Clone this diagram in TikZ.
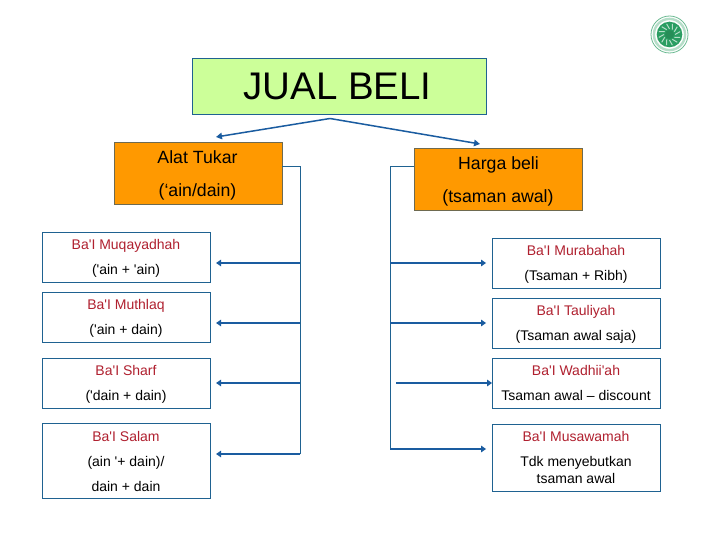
\documentclass[tikz,border=0pt]{standalone}
\usepackage{fontspec}
\setmainfont{Liberation Sans}
\usetikzlibrary{arrows.meta,calc}
\definecolor{edgeblue}{HTML}{1F6291}
\definecolor{arrowblue}{HTML}{1A5CA0}
\definecolor{titlegreen}{HTML}{CCFF99}
\definecolor{headorange}{HTML}{FF9900}
\definecolor{headedge}{HTML}{6E6A50}
\definecolor{redtext}{HTML}{B0202F}
\definecolor{logogreen}{HTML}{2A9D62}
\newcommand{\ap}{\textquotesingle}
\tikzset{
  titlebox/.style={draw=edgeblue,fill=titlegreen,line width=0.9pt,minimum width=294pt,minimum height=56pt,inner sep=0pt,outer sep=0pt},
  headbox/.style={draw=headedge,fill=headorange,line width=0.9pt,minimum width=168pt,minimum height=62pt,inner sep=0pt,outer sep=0pt},
  itembox/.style={draw=edgeblue,line width=0.9pt,minimum width=168.5pt,inner sep=0pt,outer sep=0pt},
  headtext/.style={anchor=base,yshift=-1.5pt,font=\fontsize{17.7}{20}\selectfont,text=black,inner sep=0pt},
  nametext/.style={anchor=base,yshift=-0.8pt,font=\fontsize{14}{16}\selectfont,text=redtext,inner sep=0pt},
  valtext/.style={anchor=base,yshift=-0.8pt,font=\fontsize{14}{16}\selectfont,text=black,inner sep=0pt},
  trunk/.style={draw=edgeblue,line width=0.9pt},
  branch/.style={draw=arrowblue,line width=2.1pt,-{Triangle[length=5pt,width=6.5pt]}},
  toparrow/.style={draw=arrowblue,line width=1.5pt,-{Triangle[length=6pt,width=6.5pt]}}
}
\begin{document}
\begin{tikzpicture}[x=1pt,y=-1pt]
\useasboundingbox (0,0) rectangle (720,540);
\fill[white] (0,0) rectangle (720,540);
% title
\node[titlebox] (title) at (339.3,86.3) {};
\node[anchor=base,font=\fontsize{38.5}{44}\selectfont,inner sep=0pt] (titletext) at (337.5,100) {JUAL BELI};
% heads
\node[headbox] (alat) at (198.3,173.5) {};
\node[headbox] (harga) at (498.3,179.3) {};
\node[headtext] (alat1) at (197.5,162) {Alat Tukar};
\node[headtext] (alat2) at (197.5,195) {(‘ain/dain)};
\node[headtext] (harga1) at (498.5,168) {Harga beli};
\node[headtext] (harga2) at (498,201) {(tsaman awal)};
% left items
\node[itembox,minimum height=50pt] (l1) at (126.3,257.3) {};
\node[itembox,minimum height=50pt] (l2) at (126.3,317.3) {};
\node[itembox,minimum height=50pt] (l3) at (126.3,383.3) {};
\node[itembox,minimum height=75pt] (l4) at (126.3,461.3) {};
\node[nametext] (l1a) at (126,248.5) {Ba\ap I Muqayadhah};
\node[valtext] (l1b) at (126,274) {(\ap ain + \ap ain)};
\node[nametext] (l2a) at (126,309) {Ba\ap I Muthlaq};
\node[valtext] (l2b) at (126,334) {(\ap ain + dain)};
\node[nametext] (l3a) at (126,375) {Ba\ap I Sharf};
\node[valtext] (l3b) at (126,400) {(\ap dain + dain)};
\node[nametext] (l4a) at (126,441) {Ba\ap I Salam};
\node[valtext] (l4b) at (126,466) {(ain \ap + dain)/};
\node[valtext] (l4c) at (126,491) {dain + dain};
% right items
\node[itembox,minimum height=50pt] (r1) at (576.3,263.3) {};
\node[itembox,minimum height=50pt] (r2) at (576.3,323.3) {};
\node[itembox,minimum height=50pt] (r3) at (576.3,383.3) {};
\node[itembox,minimum height=67pt] (r4) at (576.3,457.8) {};
\node[nametext] (r1a) at (576,255) {Ba\ap I Murabahah};
\node[valtext] (r1b) at (576,280) {(Tsaman + Ribh)};
\node[nametext] (r2a) at (576,315) {Ba\ap I Tauliyah};
\node[valtext] (r2b) at (576,340) {(Tsaman awal saja)};
\node[nametext] (r3a) at (576,375) {Ba\ap I Wadhii\ap ah};
\node[valtext] (r3b) at (576,400) {Tsaman awal – discount};
\node[nametext] (r4a) at (576,441) {Ba\ap I Musawamah};
\node[valtext] (r4b) at (576,466) {Tdk menyebutkan};
\node[valtext] (r4c) at (576,483) {tsaman awal};
% top connector
\coordinate (peak) at (330,118.5);
\coordinate (tipl) at (216,137);
\coordinate (tipr) at (480,144);
\draw[toparrow] (peak) -- (tipl);
\draw[toparrow] (peak) -- (tipr);
% trunks
\coordinate (ltop) at (300.3,166.3);
\coordinate (lend) at (300.3,454);
\coordinate (rtop) at (390.3,166.3);
\coordinate (rend) at (390.3,449);
\draw[trunk] (alat.east |- ltop) -- (ltop) -- (lend);
\draw[trunk] (harga.west |- rtop) -- (rtop) -- (rend);
% branches left
\coordinate (la1) at (300.3,263);
\coordinate (la2) at (300.3,323);
\coordinate (la3) at (300.3,383);
\draw[branch,shorten >=5.5pt] (la1) -- (la1 -| l1.east);
\draw[branch,shorten >=5.5pt] (la2) -- (la2 -| l2.east);
\draw[branch,shorten >=5.5pt] (la3) -- (la3 -| l3.east);
\draw[branch,shorten >=5.5pt] (lend) -- (lend -| l4.east);
% branches right
\coordinate (ra1) at (390.3,263);
\coordinate (ra2) at (390.3,323);
\coordinate (ra3) at (390.3,383);
\draw[branch,shorten >=6pt] (ra1) -- (ra1 -| r1.west);
\draw[branch,shorten >=6pt] (ra2) -- (ra2 -| r2.west);
\draw[branch,shorten <=5.7pt] (ra3) -- (ra3 -| r3.west);
\draw[branch,shorten >=6pt] (rend) -- (rend -| r4.west);
% logo
\coordinate (logo) at (669.5,34.5);
\draw[logogreen!70,line width=0.8pt,fill=white] (logo) circle (18.5pt);
\draw[logogreen!35,line width=2.4pt] (logo) circle (15.6pt);
\fill[logogreen] (logo) circle (12.8pt);
\foreach \a in {0,30,...,330}{
  \draw[logogreen!35,line width=1pt] ($(logo)+(\a:5.5pt)$) -- ($(logo)+(\a+15:11pt)$);
}
\fill[logogreen!90!black] (logo) circle (4.5pt);
\end{tikzpicture}
\end{document}
